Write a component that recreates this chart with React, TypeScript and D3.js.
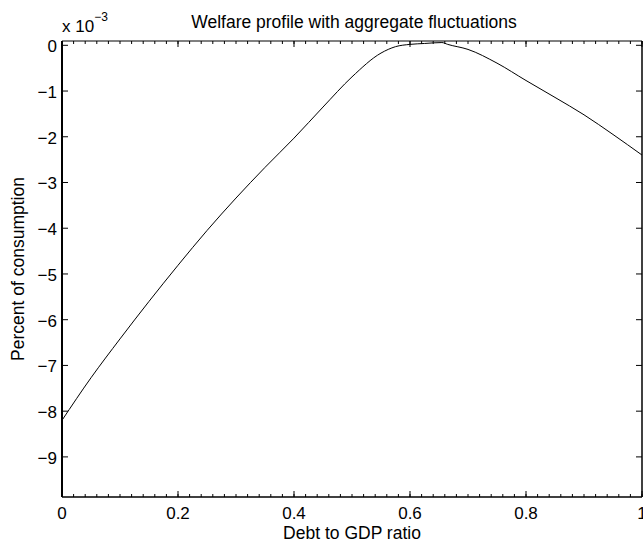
import React from "react";
import * as d3 from "d3";

const debtRatio = [0, 0.05, 0.1, 0.15, 0.2, 0.25, 0.3, 0.35, 0.4, 0.45, 0.5, 0.55, 0.575, 0.6, 0.625, 0.655, 0.665, 0.7, 0.75, 0.8, 0.85, 0.9, 0.95, 1.0];
const welfare = [-8.2, -7.27, -6.42, -5.6, -4.81, -4.05, -3.34, -2.67, -2.03, -1.35, -0.69, -0.17, -0.03, 0.02, 0.04, 0.06, 0.02, -0.09, -0.39, -0.77, -1.14, -1.52, -1.95, -2.4];
const xTicks = [0, 0.2, 0.4, 0.6, 0.8, 1];
const xTickLabels = ["0", "0.2", "0.4", "0.6", "0.8", "1"];
const yTicks = [0, -1, -2, -3, -4, -5, -6, -7, -8, -9];
const xMinorTicks = d3.range(0, 51).map((i) => i * 0.02);

const W = 643;
const H = 539;
const L = 62, R = 642, T = 41, B = 497;
const FONT = "'Liberation Sans', Arial, Helvetica, sans-serif";

export default function App() {
  const x = d3.scaleLinear().domain([0, 1]).range([L, R]);
  const y = d3.scaleLinear().domain([-9.877, 0.094]).range([B, T]);
  const line = d3
    .line<number>()
    .x((_, i) => x(debtRatio[i]))
    .y((d) => y(d))
    .curve(d3.curveMonotoneX);
  const fmtY = (v: number) => (v < 0 ? "\u2212" + Math.abs(v) : String(v));

  return (
    <svg width={W} height={H} style={{ position: "absolute", left: 0, top: 0, background: "#fff" }}>
      <rect x={0} y={0} width={W} height={H} fill="#fff" />
      <path d={line(welfare) || ""} fill="none" stroke="#000" strokeWidth={1} />
      {xMinorTicks.map((t, i) => (
        <g key={"m" + i}>
          <line x1={x(t)} x2={x(t)} y1={B} y2={B - 3} stroke="#000" strokeWidth={1} />
          <line x1={x(t)} x2={x(t)} y1={T} y2={T + 3} stroke="#000" strokeWidth={1} />
        </g>
      ))}
      {xTicks.map((t, i) => (
        <g key={"x" + i}>
          <line x1={x(t)} x2={x(t)} y1={B} y2={B - 6} stroke="#000" strokeWidth={1} />
          <line x1={x(t)} x2={x(t)} y1={T} y2={T + 6} stroke="#000" strokeWidth={1} />
          <text x={x(t)} y={519} textAnchor="middle" fontFamily={FONT} fontSize={17} fill="#000">
            {xTickLabels[i]}
          </text>
        </g>
      ))}
      {yTicks.map((t, i) => (
        <g key={"y" + i}>
          <line x1={L} x2={L + 6} y1={y(t)} y2={y(t)} stroke="#000" strokeWidth={1} />
          <line x1={R} x2={R - 6} y1={y(t)} y2={y(t)} stroke="#000" strokeWidth={1} />
          <text x={57} y={y(t) + 7} textAnchor="end" fontFamily={FONT} fontSize={17} fill="#000">
            {fmtY(t)}
          </text>
        </g>
      ))}
      <line x1={L} x2={R} y1={T} y2={T} stroke="#000" strokeWidth={1} />
      <line x1={L} x2={R} y1={B} y2={B} stroke="#000" strokeWidth={1.5} />
      <line x1={L} x2={L} y1={T} y2={B} stroke="#000" strokeWidth={2} />
      <line x1={R} x2={R} y1={T} y2={B} stroke="#000" strokeWidth={1.5} />
      <text x={62} y={32} fontFamily={FONT} fontSize={17} fill="#000">
        x 10
        <tspan fontSize={12} dy={-11}>{"\u22123"}</tspan>
      </text>
      <text x={354} y={28} textAnchor="middle" fontFamily={FONT} fontSize={17.5} fill="#000">
        Welfare profile with aggregate fluctuations
      </text>
      <text x={(L + R) / 2} y={539} textAnchor="middle" fontFamily={FONT} fontSize={17.5} fill="#000">
        Debt to GDP ratio
      </text>
      <text
        transform={`translate(24, ${(T + B) / 2}) rotate(-90)`}
        textAnchor="middle"
        fontFamily={FONT}
        fontSize={17.5}
        fill="#000"
      >
        Percent of consumption
      </text>
    </svg>
  );
}
